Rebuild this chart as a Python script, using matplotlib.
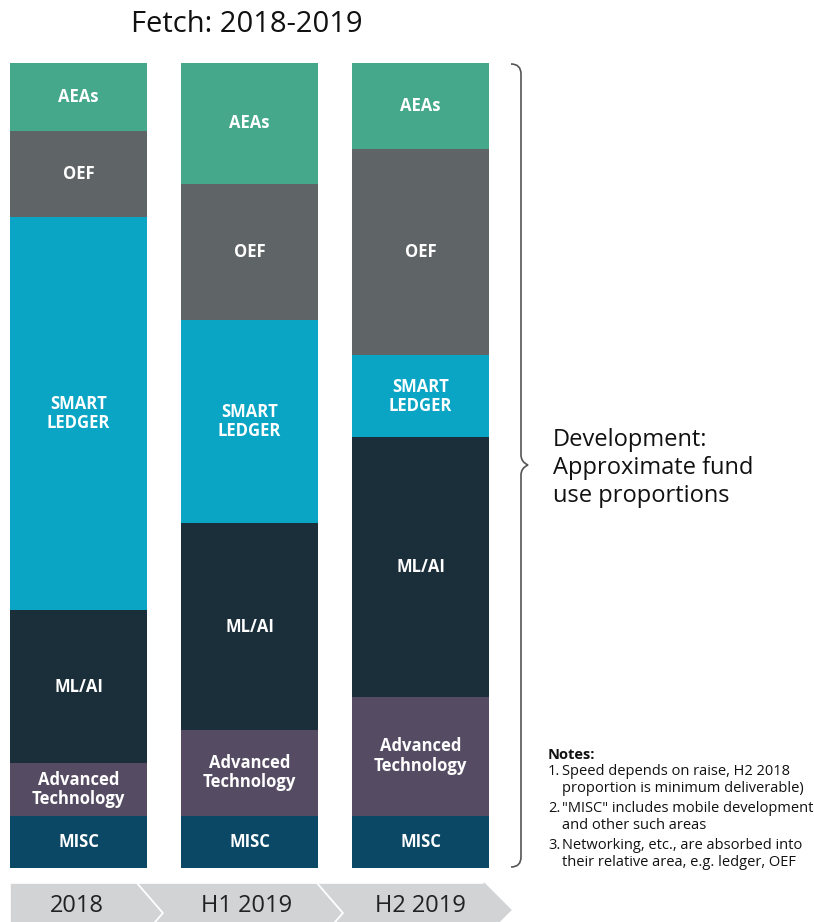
import matplotlib.pyplot as plt
import numpy as np
from matplotlib.patches import Polygon, PathPatch
from matplotlib.path import Path

plt.rcParams['font.family'] = ['Open Sans', 'DejaVu Sans']

## Données (pourcentages)
periods = ["2018", "H1 2019", "H2 2019"]
segments = ["MISC", "Advanced\nTechnology", "ML/AI", "SMART\nLEDGER", "OEF", "AEAs"]
misc = [6.5, 6.5, 6.5]
adv_tech = [6.5, 10.7, 14.8]
ml_ai = [19.0, 25.6, 32.2]
smart_ledger = [48.9, 25.3, 10.2]
oef = [10.7, 16.9, 25.6]
aeas = [8.4, 15.0, 10.7]
colors = ["#0B4866", "#554B63", "#1B2F3A", "#0AA5C4", "#5F6466", "#45A88A"]

W, H = 814, 922
fig = plt.figure(figsize=(W / 100, H / 100), dpi=100)

## Axe en pixels pour les annotations
bg = fig.add_axes([0, 0, 1, 1])
bg.set_xlim(0, W)
bg.set_ylim(H, 0)
bg.axis("off")

## Axe des barres
left, right, top, bottom = 10, 489, 63, 868
ax = fig.add_axes([left / W, 1 - bottom / H, (right - left) / W, (bottom - top) / H])
x = np.arange(len(periods))
width = 0.801
values = [misc, adv_tech, ml_ai, smart_ledger, oef, aeas]
base = np.zeros(len(periods))
for name, vals, col in zip(segments, values, colors):
    vals = np.array(vals)
    ax.bar(x, vals, width, bottom=base, color=col, edgecolor="none")
    for xi, b, v in zip(x, base, vals):
        ax.text(xi, b + v / 2, name, ha="center", va="center", color="white",
                fontsize=12, fontweight="bold", linespacing=1.1)
    base = base + vals
ax.set_xlim(-0.4005, 2.4005)
ax.set_ylim(0, 100)
ax.axis("off")

## Titre
bg.text(247, 25, "Fetch: 2018-2019", ha="center", va="center", fontsize=21, color="#111111")

## Chevrons
grey = "#D1D3D4"
chevrons = [
    [(10, 883), (137, 883), (163, 913), (137, 943), (10, 943)],
    [(137, 883), (317, 883), (343, 913), (317, 943), (137, 943), (163, 913)],
    [(317, 883), (483, 883), (483, 880), (513, 910), (483, 940), (317, 943), (343, 913)],
]
for pts in chevrons:
    bg.add_patch(Polygon(pts, closed=True, facecolor=grey, edgecolor="white", linewidth=1.2))
for xc, lab in zip([77, 247, 420], periods):
    bg.text(xc, 906, lab, ha="center", va="center", fontsize=17, color="#222222")

## Accolade
bx, tip = 521, 528
verts = [(511, 64), (521, 64), (bx, 74), (bx, 455), (bx, 462), (tip, 465),
         (bx, 468), (bx, 475), (bx, 857), (bx, 867), (511, 867)]
codes = [Path.MOVETO, Path.CURVE3, Path.CURVE3, Path.LINETO, Path.CURVE3, Path.CURVE3,
         Path.CURVE3, Path.CURVE3, Path.LINETO, Path.CURVE3, Path.CURVE3]
bg.add_patch(PathPatch(Path(verts, codes), facecolor="none", edgecolor="#555555", linewidth=1.2))

bg.text(553, 468, "Development:\nApproximate fund\nuse proportions", ha="left", va="center",
        fontsize=17, color="#111111", linespacing=1.2)

## Notes
bg.text(548, 755, "Notes:", ha="left", va="center", fontsize=10.5, fontweight="bold", color="#111111")
notes = [
    ("1.", "Speed depends on raise, H2 2018\nproportion is minimum deliverable)"),
    ("2.", "\"MISC\" includes mobile development\nand other such areas"),
    ("3.", "Networking, etc., are absorbed into\ntheir relative area, e.g. ledger, OEF"),
]
y = 764
for num, txt in notes:
    bg.text(548, y, num, ha="left", va="top", fontsize=10.5, color="#111111")
    bg.text(562, y, txt, ha="left", va="top", fontsize=10.5, color="#111111", linespacing=1.2)
    y += 37

fig.savefig("out.png", dpi=100)
